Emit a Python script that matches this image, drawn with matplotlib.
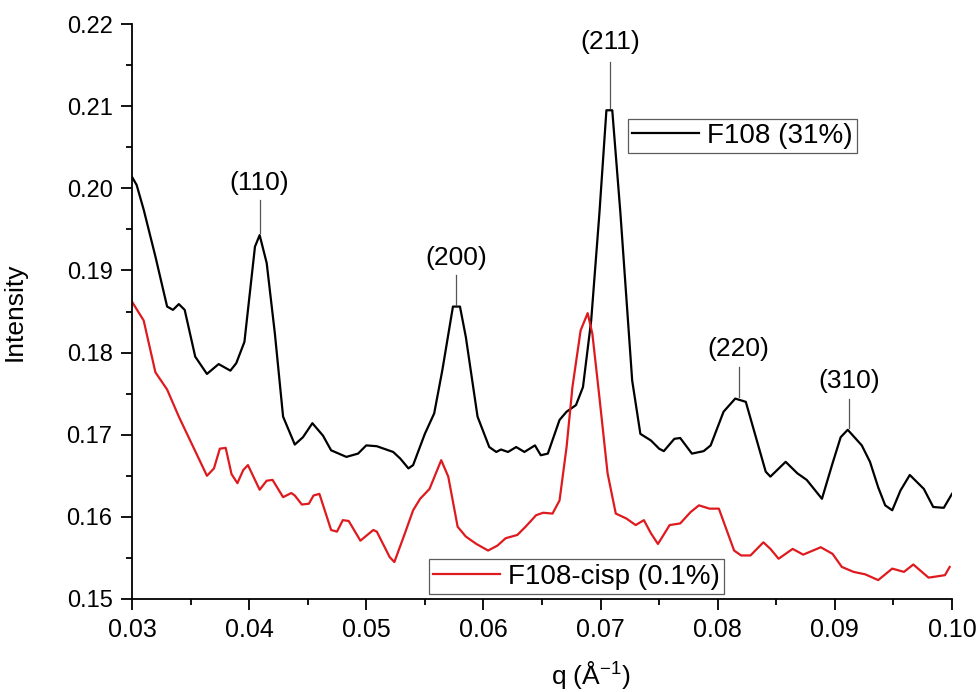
import matplotlib
matplotlib.use("Agg")
import matplotlib.pyplot as plt
from matplotlib import font_manager
from matplotlib.ticker import MultipleLocator, FormatStrFormatter

# SAXS profiles: scattering vector q (1/A) vs intensity
black_q = [0.0300, 0.0304, 0.0310, 0.0320, 0.0330, 0.0335, 0.0340, 0.0345, 0.0354, 0.0364,
           0.0374, 0.0384, 0.0389, 0.0396, 0.0405, 0.0409, 0.0415, 0.0422, 0.0429, 0.0439,
           0.0446, 0.0454, 0.0463, 0.0470, 0.0483, 0.0493, 0.0500, 0.0509, 0.0517, 0.0523,
           0.0529, 0.0536, 0.0540, 0.0550, 0.0558, 0.0565, 0.0574, 0.0580, 0.0585, 0.0595,
           0.0605, 0.0611, 0.0615, 0.0621, 0.0628, 0.0635, 0.0644, 0.0649, 0.0655, 0.0665,
           0.0671, 0.0679, 0.0685, 0.0692, 0.0699, 0.0705, 0.0710, 0.0717, 0.0727, 0.0734,
           0.0743, 0.0750, 0.0754, 0.0763, 0.0768, 0.0778, 0.0788, 0.0794, 0.0805, 0.0815,
           0.0824, 0.0831, 0.0841, 0.0845, 0.0858, 0.0868, 0.0876, 0.0889, 0.0898, 0.0905,
           0.0911, 0.0923, 0.0930, 0.0937, 0.0943, 0.0949, 0.0956, 0.0964, 0.0976, 0.0984,
           0.0993, 0.1000]
black_i = [0.2014, 0.2004, 0.1974, 0.1917, 0.1856, 0.1852, 0.1859, 0.1852, 0.1795, 0.1774,
           0.1786, 0.1778, 0.1787, 0.1813, 0.1929, 0.1943, 0.1909, 0.1823, 0.1722, 0.1688,
           0.1697, 0.1714, 0.1699, 0.1681, 0.1673, 0.1677, 0.1687, 0.1686, 0.1682, 0.1679,
           0.1671, 0.1659, 0.1663, 0.1701, 0.1726, 0.1779, 0.1856, 0.1856, 0.1819, 0.1722,
           0.1685, 0.1679, 0.1682, 0.1679, 0.1685, 0.1679, 0.1687, 0.1675, 0.1677, 0.1718,
           0.1728, 0.1736, 0.1758, 0.1839, 0.1969, 0.2095, 0.2095, 0.1969, 0.1766, 0.1701,
           0.1693, 0.1683, 0.1680, 0.1695, 0.1696, 0.1677, 0.1680, 0.1687, 0.1728, 0.1744,
           0.1740, 0.1705, 0.1655, 0.1649, 0.1667, 0.1653, 0.1645, 0.1622, 0.1665, 0.1697,
           0.1706, 0.1687, 0.1667, 0.1636, 0.1614, 0.1608, 0.1632, 0.1651, 0.1634, 0.1612,
           0.1611, 0.1628]

red_q = [0.0300, 0.0310, 0.0320, 0.0330, 0.0340, 0.0351, 0.0364, 0.0370, 0.0375, 0.0380,
         0.0385, 0.0390, 0.0395, 0.0399, 0.0409, 0.0415, 0.0420, 0.0429, 0.0436, 0.0439,
         0.0445, 0.0451, 0.0455, 0.0460, 0.0470, 0.0475, 0.0480, 0.0485, 0.0495, 0.0506,
         0.0509, 0.0520, 0.0524, 0.0533, 0.0540, 0.0546, 0.0554, 0.0564, 0.0570, 0.0578,
         0.0585, 0.0594, 0.0604, 0.0612, 0.0619, 0.0629, 0.0636, 0.0645, 0.0651, 0.0659,
         0.0665, 0.0671, 0.0676, 0.0683, 0.0689, 0.0693, 0.0699, 0.0706, 0.0713, 0.0722,
         0.0730, 0.0737, 0.0743, 0.0749, 0.0759, 0.0768, 0.0777, 0.0784, 0.0793, 0.0801,
         0.0814, 0.0820, 0.0828, 0.0839, 0.0845, 0.0852, 0.0864, 0.0873, 0.0888, 0.0898,
         0.0906, 0.0916, 0.0926, 0.0937, 0.0949, 0.0959, 0.0967, 0.0980, 0.0994, 0.0998]
red_i = [0.1862, 0.1839, 0.1776, 0.1755, 0.1722, 0.1689, 0.1650, 0.1659, 0.1683, 0.1684,
         0.1652, 0.1641, 0.1657, 0.1663, 0.1633, 0.1644, 0.1645, 0.1624, 0.1629, 0.1626,
         0.1615, 0.1616, 0.1626, 0.1628, 0.1584, 0.1582, 0.1596, 0.1595, 0.1571, 0.1584,
         0.1582, 0.1551, 0.1545, 0.1580, 0.1608, 0.1622, 0.1634, 0.1669, 0.1649, 0.1588,
         0.1576, 0.1567, 0.1559, 0.1565, 0.1574, 0.1578, 0.1588, 0.1602, 0.1605, 0.1604,
         0.1620, 0.1685, 0.1758, 0.1827, 0.1848, 0.1823, 0.1746, 0.1653, 0.1604, 0.1598,
         0.1590, 0.1596, 0.1580, 0.1567, 0.1590, 0.1592, 0.1606, 0.1614, 0.1610, 0.1610,
         0.1559, 0.1553, 0.1553, 0.1569, 0.1561, 0.1549, 0.1561, 0.1554, 0.1563, 0.1555,
         0.1539, 0.1533, 0.1530, 0.1523, 0.1537, 0.1533, 0.1542, 0.1526, 0.1529, 0.1539]

# Bragg reflections of the F108 (31%) curve
peak_labels = ["(110)", "(200)", "(211)", "(220)", "(310)"]
peak_q = [0.0409, 0.0577, 0.0708, 0.0818, 0.0912]
peak_top = [0.1945, 0.1858, 0.2098, 0.1746, 0.1708]
tick_top = [0.1986, 0.1894, 0.2154, 0.1783, 0.1744]
label_y = [0.2006, 0.1915, 0.2178, 0.1804, 0.1765]


def first_font(names):
    have = {f.name for f in font_manager.fontManager.ttflist}
    for n in names:
        if n in have:
            return n
    return "DejaVu Sans"


sans = first_font(["Liberation Sans", "Arial"])
plt.rcParams["font.family"] = sans

fig = plt.figure(figsize=(9.79, 6.92), dpi=100)
ax = fig.add_axes([0.1348, 0.1344, 0.8376, 0.8309])

l1, = ax.plot(black_q, black_i, color="black", lw=1.6)
l2, = ax.plot(red_q, red_i, color="#df1a1f", lw=1.6)

for lab, q, p0, p1, ty in zip(peak_labels, peak_q, peak_top, tick_top, label_y):
    ax.plot([q, q], [p0, p1], color="#555555", lw=0.9)
    ax.text(q, ty, lab, ha="center", va="center", fontsize=19)

ax.set_xlim(0.03, 0.10)
ax.set_ylim(0.15, 0.22)
ax.xaxis.set_major_locator(MultipleLocator(0.01))
ax.xaxis.set_minor_locator(MultipleLocator(0.005))
ax.yaxis.set_major_locator(MultipleLocator(0.01))
ax.yaxis.set_minor_locator(MultipleLocator(0.005))
ax.xaxis.set_major_formatter(FormatStrFormatter("%.2f"))
ax.yaxis.set_major_formatter(FormatStrFormatter("%.2f"))

for s in ["top", "right"]:
    ax.spines[s].set_visible(False)
for s in ["left", "bottom"]:
    ax.spines[s].set_linewidth(1.3)

ax.tick_params(which="major", direction="out", length=8, width=1.3, pad=6)
ax.tick_params(which="minor", direction="out", length=4, width=1.3)
ax.tick_params(axis="y", labelsize=17)
ax.tick_params(axis="x", labelsize=18)

ax.set_ylabel("Intensity", fontsize=19)
ax.yaxis.set_label_coords(-0.128, 0.5)
ax.set_xlabel(r"q ($\mathregular{\AA^{-1}}$)", fontsize=19)
ax.xaxis.set_label_coords(0.56, -0.105)

leg_kw = dict(frameon=True, fancybox=False, fontsize=20, handlelength=2.4,
              handletextpad=0.3, borderpad=0.15, borderaxespad=0)
leg1 = ax.legend([l1], ["F108 (31%)"], loc="upper left",
                 bbox_to_anchor=(0.605, 0.835), **leg_kw)
leg1.get_frame().set_edgecolor("#333333")
leg1.get_frame().set_linewidth(0.9)
ax.add_artist(leg1)
leg2 = ax.legend([l2], ["F108-cisp (0.1%)"], loc="lower left",
                 bbox_to_anchor=(0.362, 0.009), **leg_kw)
leg2.get_frame().set_edgecolor("#333333")
leg2.get_frame().set_linewidth(0.9)

fig.savefig("out.png", dpi=100)
